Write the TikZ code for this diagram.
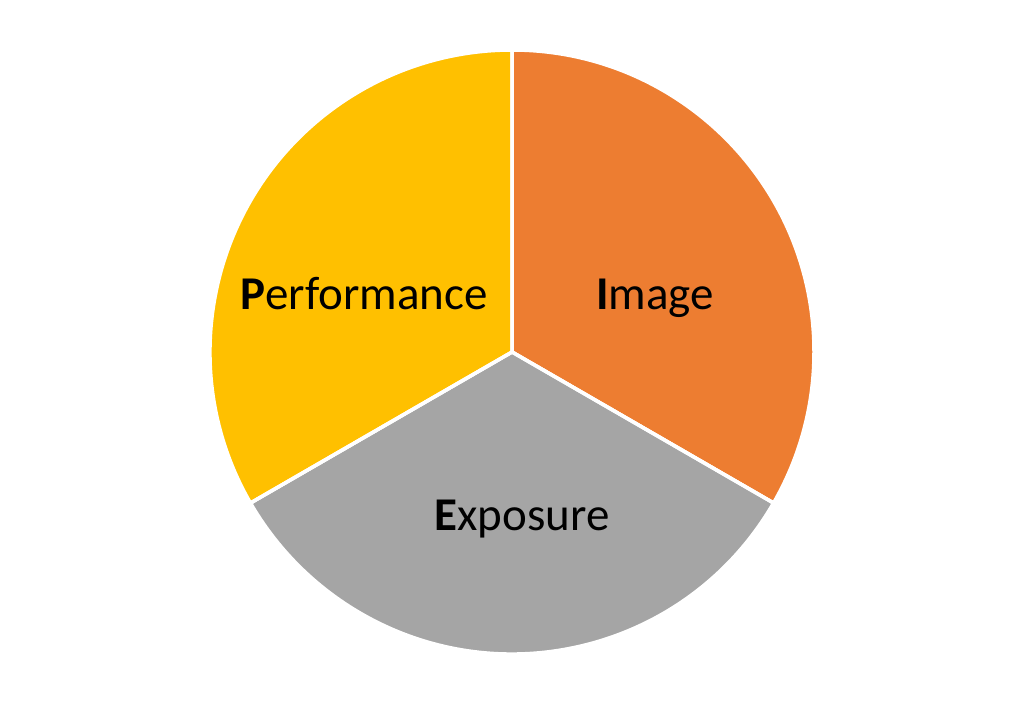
\documentclass[tikz,border=0pt]{standalone}
\usepackage{fontspec}
\setmainfont{Carlito}
\definecolor{cimage}{HTML}{ED7D31}
\definecolor{cexpo}{HTML}{A5A5A5}
\definecolor{cperf}{HTML}{FFC000}
\begin{document}
\begin{tikzpicture}[x=1pt,y=1pt,
  sector/.style={draw=white,line width=3.5pt,line join=round},
  lbl/.style={font=\fontsize{47}{54}\selectfont,text=black,anchor=base,inner sep=0pt}]
\useasboundingbox (0,0) rectangle (1023,705);
\coordinate (c) at (512,353);
\fill[sector,fill=cimage] (c) -- ++(90:302) arc[start angle=90,end angle=-30,radius=302] -- cycle;
\fill[sector,fill=cexpo] (c) -- ++(-30:302) arc[start angle=-30,end angle=-150,radius=302] -- cycle;
\fill[sector,fill=cperf] (c) -- ++(210:302) arc[start angle=210,end angle=90,radius=302] -- cycle;
\draw[sector] (c) -- ++(90:302) (c) -- ++(-30:302) (c) -- ++(210:302);
\node[lbl] (perf) at (364,395) {\textbf{P}erformance};
\node[lbl] (img) at (655,395) {\textbf{I}mage};
\node[lbl] (expo) at (522,175) {\textbf{E}xposure};
\end{tikzpicture}
\end{document}
